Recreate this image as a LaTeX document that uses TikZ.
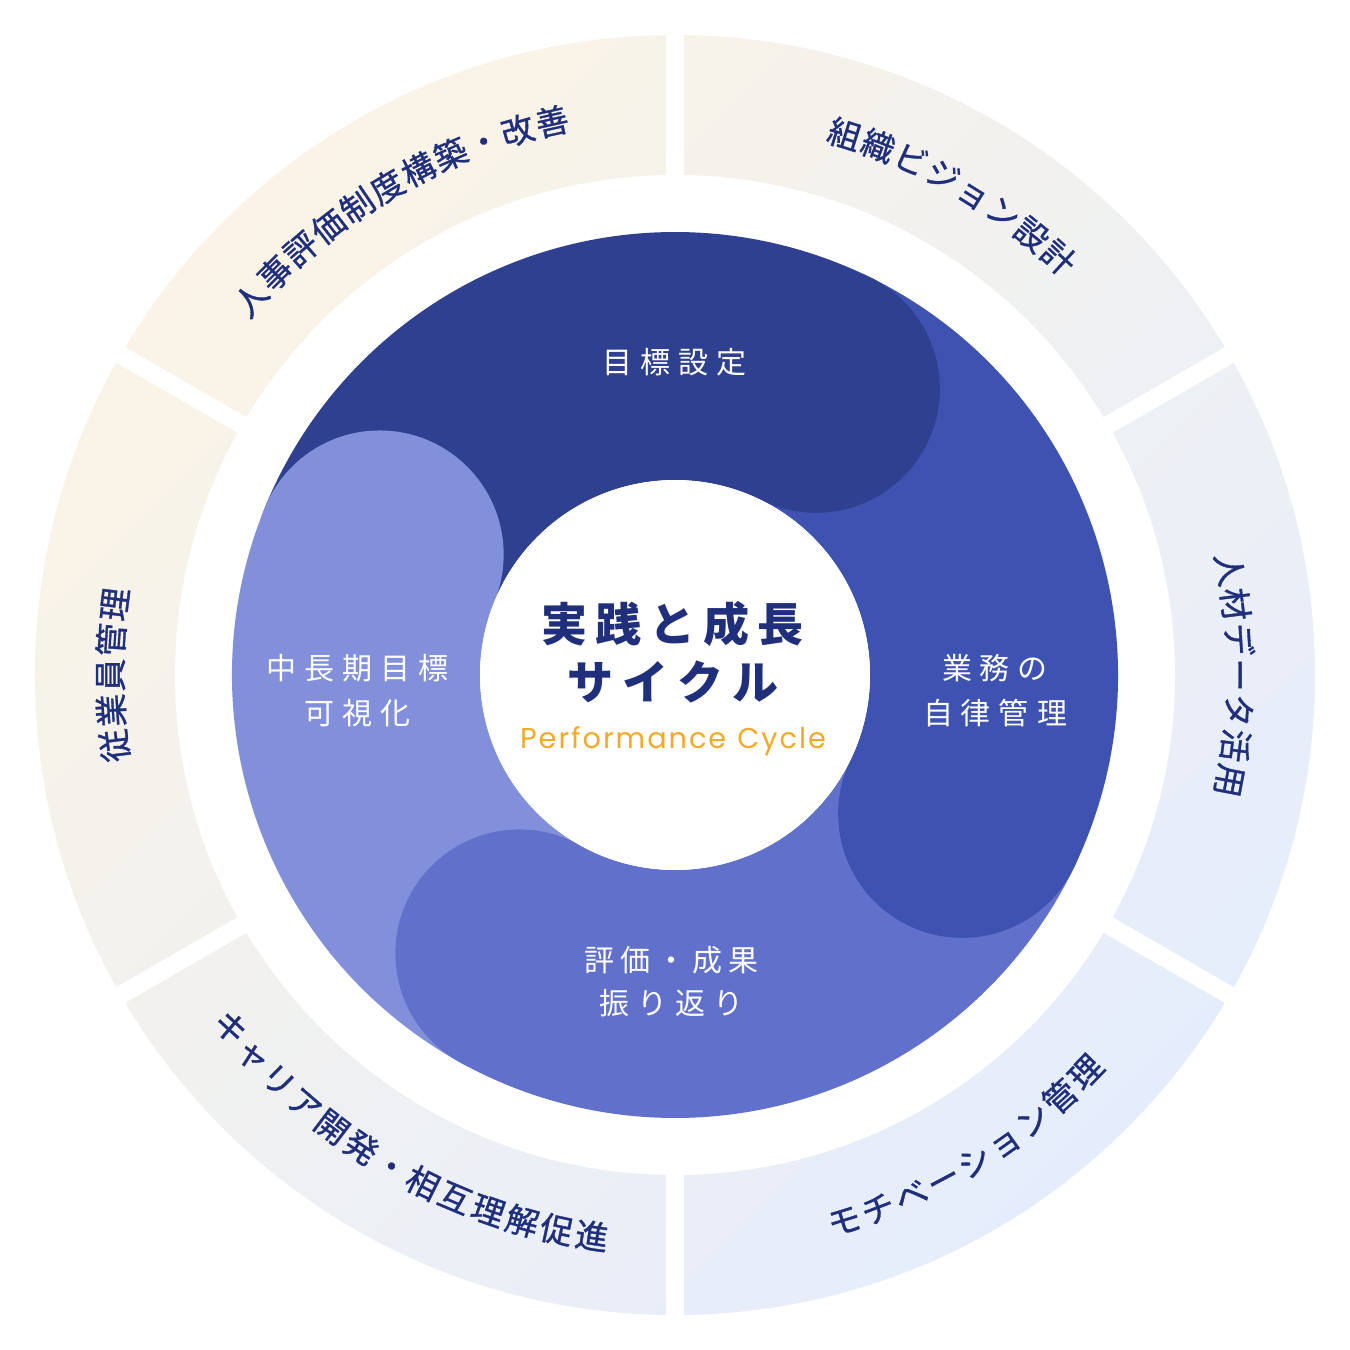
\documentclass[tikz,border=0pt]{standalone}
\usepackage{fontspec}
\setmainfont{Noto Sans CJK JP}
\newfontfamily\jp{Noto Sans CJK JP}
\newfontfamily\jpm[FakeBold=1]{Noto Sans CJK JP}
\newfontfamily\pop{Poppins}
\definecolor{cDark}{HTML}{2E408F}
\definecolor{cMed}{HTML}{3E52B2}
\definecolor{cBot}{HTML}{6171CB}
\definecolor{cLeft}{HTML}{8290DB}
\definecolor{cNavy}{HTML}{1F2F7C}
\definecolor{cOrange}{HTML}{F4A92B}
\definecolor{cCream}{HTML}{FBF4E6}
\definecolor{cMid}{HTML}{EEF0F6}
\definecolor{cIce}{HTML}{E5EDFC}
\makeatletter
\newcommand\spc[2]{\def\spc@first{1}\@tfor\spc@c:=#2\do{\ifnum\spc@first=1 \def\spc@first{0}\else\kern#1\relax\fi\spc@c}}
\makeatother
\def\arcstep{3.594}
\newcommand\ArcOut[5]{%
  \foreach \ch [count=\i from 0] in {#5} {
    \pgfmathsetmacro\ang{#2+(#4/2-\i)*\arcstep}
    \node[ringtext, rotate=\ang-90] (#1-\i) at (\ang:#3) {\ch};
  }}
\newcommand\ArcIn[5]{%
  \foreach \ch [count=\i from 0] in {#5} {
    \pgfmathsetmacro\ang{#2+(\i-#4/2)*\arcstep}
    \node[ringtext, rotate=\ang+90] (#1-\i) at (\ang:#3) {\ch};
  }}
\tikzset{
  ringtext/.style={font=\jpm\fontsize{33}{38}\selectfont, text=cNavy, inner sep=0pt, text height=29pt, text depth=4pt},
  innerlabel/.style={font=\jp\fontsize{30}{35}\selectfont, text=white, inner sep=0pt, text height=26.4pt, text depth=3.6pt},
  titlelabel/.style={font=\jp\bfseries\fontsize{46}{55}\selectfont, text=cNavy, inner sep=0pt, text height=40.5pt, text depth=5.5pt},
  sublabel/.style={font=\pop\fontsize{28.7}{34}\selectfont, text=cOrange, inner sep=0pt, text height=20pt, text depth=0pt},
}
\begin{document}
\begin{tikzpicture}[x=1pt,y=1pt]
\useasboundingbox (-675,-675) rectangle (675,675);
\fill[white] (-675,-675) rectangle (675,675);
% outer ring
\shade[top color=cCream, middle color=cMid, bottom color=cIce, shading angle=45] (0,0) circle (640);
\foreach \a in {30,90,150} \fill[white, rotate=\a] (-660,-9) rectangle (660,9);
\fill[white] (0,0) circle (500);
% cycle sectors
\def\hA{63.8}\def\hB{-25.8}\def\hC{-119.2}\def\hD{-202.2}
\fill[cDark] (157.8:443) arc[start angle=157.8, end angle=\hA, radius=443] -- (\hA:195) arc[start angle=\hA, end angle=157.8, radius=195] -- cycle;
\fill[cMed] (\hA:443) arc[start angle=\hA, end angle=\hB, radius=443] -- (\hB:195) arc[start angle=\hB, end angle=\hA, radius=195] -- cycle;
\fill[cBot] (\hB:443) arc[start angle=\hB, end angle=\hC, radius=443] -- (\hC:195) arc[start angle=\hC, end angle=\hB, radius=195] -- cycle;
\fill[cLeft] (\hC:443) arc[start angle=\hC, end angle=\hD, radius=443] -- (\hD:195) arc[start angle=\hD, end angle=\hC, radius=195] -- cycle;
% heads
\fill[cDark] (\hA:319) circle (124);
\fill[cMed] (\hB:319) circle (124);
\fill[cBot] (\hC:319) circle (124);
\fill[cLeft] (\hD:319) circle (124);
\fill[white] (0,0) circle (195);
% ring texts
\ArcOut{ta}{120.5}{567}{10}{人,事,評,価,制,度,構,築,・,改,善}
\ArcOut{tb}{60}{567}{7}{組,織,ビ,ジ,ョ,ン,設,計}
\ArcOut{tc}{0}{565}{6}{人,材,デ,ー,タ,活,用}
\ArcOut{td}{180}{565}{4}{従,業,員,管,理}
\ArcIn{te}{-58.4}{571}{8}{モ,チ,ベ,ー,シ,ョ,ン,管,理}
\ArcIn{tf}{240}{567}{12}{キ,ャ,リ,ア,開,発,・,相,互,理,解,促,進}
% inner labels
\node[innerlabel] (goal) at (0,313) {\spc{8pt}{目標設定}};
\node[innerlabel] (task1) at (320,7) {\spc{8pt}{業務の}};
\node[innerlabel] (task2) at (320,-38) {\spc{8pt}{自律管理}};
\node[innerlabel] (eval1) at (-3,-285) {\spc{6pt}{評価・成果}};
\node[innerlabel] (eval2) at (-3,-328) {\spc{8pt}{振り返り}};
\node[innerlabel] (vis1) at (-317,7) {\spc{8pt}{中長期目標}};
\node[innerlabel] (vis2) at (-317,-38) {\spc{8pt}{可視化}};
% center
\node[titlelabel] (title1) at (-2,51) {\spc{8pt}{実践と成長}};
\node[titlelabel] (title2) at (-2,-7) {\spc{9pt}{サイクル}};
\node[sublabel] (sub) at (-2,-63) {\spc{2pt}{Performance}\kern11pt\spc{2pt}{Cycle}};
\end{tikzpicture}
\end{document}
